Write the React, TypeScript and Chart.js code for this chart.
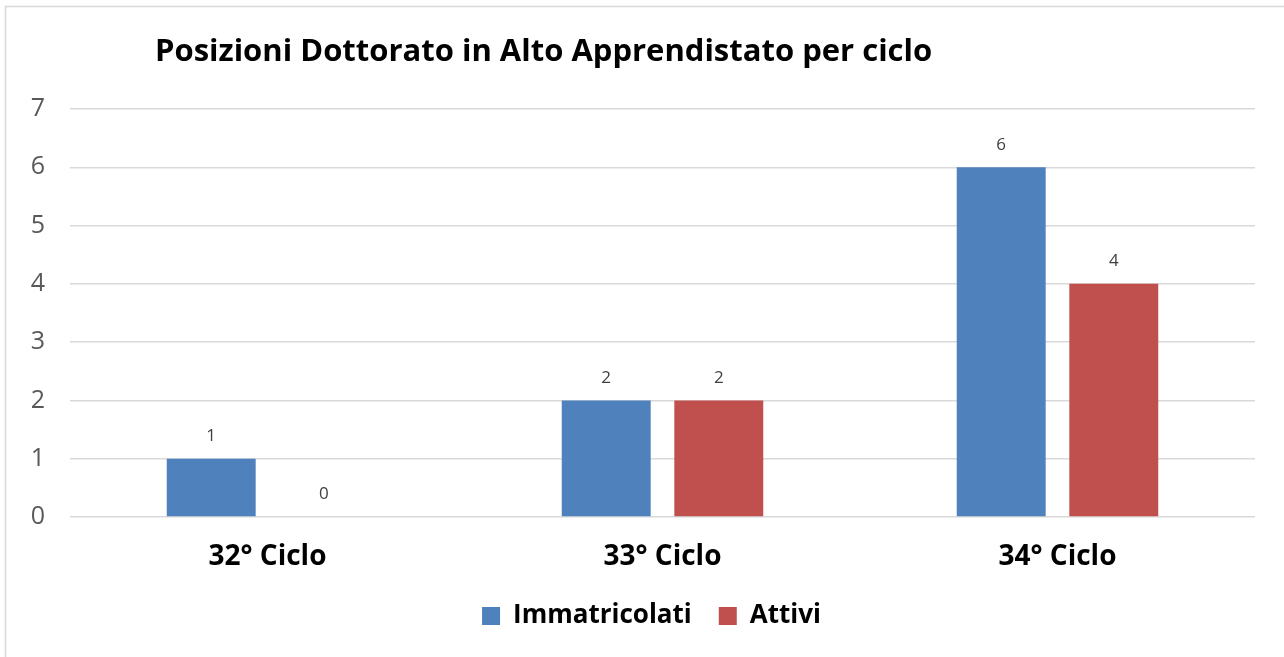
import React, { useEffect, useRef } from "react";
import { Chart, registerables } from "chart.js";

Chart.register(...registerables);

const categories = ["32° Ciclo", "33° Ciclo", "34° Ciclo"];
const immatricolati = [1, 2, 6];
const attivi = [0, 2, 4];
const seriesNames = ["Immatricolati", "Attivi"];
const titleText = "Posizioni Dottorato in Alto Apprendistato per ciclo";
const FONT = "'Open Sans', sans-serif";

const extrasPlugin = {
  id: "extras",
  afterUpdate(chart: any) {
    const lg = chart.legend;
    if (lg) {
      lg.left += 24;
      lg.right += 24;
    }
  },
  beforeDraw(chart: any) {
    const ctx = chart.ctx;
    ctx.save();
    ctx.fillStyle = "#ffffff";
    ctx.fillRect(0, 0, chart.width, chart.height);
    ctx.strokeStyle = "#d9d9d9";
    ctx.lineWidth = 1.5;
    ctx.strokeRect(5.5, 6.5, chart.width + 20, chart.height + 20);
    ctx.restore();
  },
  afterDraw(chart: any) {
    const ctx = chart.ctx;
    ctx.save();
    ctx.fillStyle = "#000000";
    ctx.font = `bold 31px ${FONT}`;
    ctx.textBaseline = "middle";
    ctx.textAlign = "left";
    ctx.fillText(titleText, 155, 52);
    ctx.font = `17px ${FONT}`;
    ctx.fillStyle = "#404040";
    ctx.textAlign = "center";
    ctx.textBaseline = "bottom";
    chart.data.datasets.forEach((ds: any, i: number) => {
      const meta = chart.getDatasetMeta(i);
      meta.data.forEach((bar: any, j: number) => {
        ctx.fillText(String(ds.data[j]), bar.x, bar.y - 14);
      });
    });
    ctx.restore();
  },
};

export default function App() {
  const ref = useRef<HTMLCanvasElement | null>(null);
  useEffect(() => {
    if (!ref.current) return;
    const chart = new Chart(ref.current, {
      type: "bar",
      data: {
        labels: categories,
        datasets: [
          { label: seriesNames[0], data: immatricolati, backgroundColor: "#4F81BD" },
          { label: seriesNames[1], data: attivi, backgroundColor: "#C0504D" },
        ],
      },
      options: {
        animation: false,
        responsive: false,
        devicePixelRatio: 1,
        layout: { padding: { top: 109, right: 29, left: 0, bottom: 18 } },
        datasets: { bar: { categoryPercentage: 0.57, barPercentage: 0.79 } },
        plugins: {
          legend: {
            position: "bottom",
            labels: {
              boxWidth: 18,
              boxHeight: 18,
              padding: 27,
              color: "#000000",
              font: { family: FONT, size: 26, weight: "bold" },
            },
          },
          tooltip: { enabled: false },
        },
        scales: {
          x: {
            grid: { display: false, drawTicks: false },
            border: { display: false },
            ticks: {
              color: "#000000",
              padding: 23,
              font: { family: FONT, size: 28, weight: "bold" },
            },
            afterFit: (s: any) => { s.height = 59; },
          },
          y: {
            min: 0,
            max: 7,
            ticks: {
              stepSize: 1,
              color: "#595959",
              padding: 25,
              font: { family: FONT, size: 25 },
            },
            grid: { color: "#d9d9d9", lineWidth: 1.5, drawTicks: false },
            border: { display: false },
            afterFit: (s: any) => { s.width = 70; },
          },
        },
      },
      plugins: [extrasPlugin],
    });
    return () => chart.destroy();
  }, []);
  return (
    <div style={{ position: "absolute", left: 0, top: 0, width: 1284, height: 657 }}>
      <canvas ref={ref} width={1284} height={657} style={{ display: "block" }} />
    </div>
  );
}
